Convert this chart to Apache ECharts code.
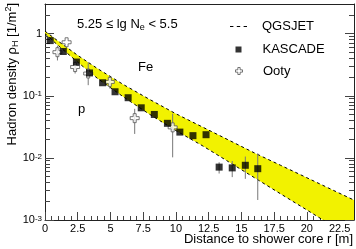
<!DOCTYPE html>
<html><head><meta charset="utf-8">
<script src="https://cdn.jsdelivr.net/npm/echarts@6/dist/echarts.min.js"></script>
<style>html,body{margin:0;padding:0;background:#fff}#c{width:356px;height:249px}</style>
</head><body><div id="c"></div>
<script>
// KASCADE measurements
const kascadeR   = [0.4, 1.4, 2.4, 3.4, 4.4, 5.35, 6.35, 7.35, 8.35, 9.35, 10.3, 11.3, 12.3, 13.3, 14.3, 15.3, 16.25];
const kascadeRho = [0.773, 0.516, 0.349, 0.233, 0.162, 0.116, 0.093, 0.064, 0.050, 0.036, 0.026, 0.0228, 0.0236, 0.0071, 0.0069, 0.0076, 0.0067];
const kascadeLo  = [null, null, null, null, null, null, null, null, null, null, null, null, null, 0.0056, 0.0049, 0.0046, 0.0021];
const kascadeHi  = [null, null, null, null, null, null, null, null, null, null, null, null, null, 0.0085, 0.0089, 0.0105, 0.0118];
// Ooty measurements
const ootyR   = [0.95, 1.65, 2.3, 3.3, 4.95, 6.85, 9.75];
const ootyRho = [0.503, 0.726, 0.290, 0.228, 0.167, 0.0436, 0.031];
const ootyLo  = [0.37, null, 0.228, 0.148, 0.131, 0.0243, 0.0102];
const ootyHi  = [0.64, null, 0.37, 0.345, 0.21, 0.0616, 0.0514];
// QGSJET band (Fe upper, p lower)
const bandR    = [0, 1, 2.5, 4, 6, 8, 10, 12, 14, 16, 18, 20, 22, 23.6];
const qgsUpper = [1.096, 0.759, 0.447, 0.275, 0.151, 0.0871, 0.0513, 0.0316, 0.0195, 0.0120, 0.00759, 0.00479, 0.00302, 0.00209];
const qgsLower = [1.0, 0.646, 0.347, 0.191, 0.0955, 0.0501, 0.0275, 0.0158, 0.00871, 0.00479, 0.00263, 0.00145, 0.000794, 0.000501];
// ticks
const xMajor = [0, 2.5, 5, 7.5, 10, 12.5, 15, 17.5, 20, 22.5];
const xMinor = [0.5,1,1.5,2,3,3.5,4,4.5,5.5,6,6.5,7,8,8.5,9,9.5,10.5,11,11.5,12,13,13.5,14,14.5,15.5,16,16.5,17,18,18.5,19,19.5,20.5,21,21.5,22,23,23.5];
const yMajor = [0.001, 0.01, 0.1, 1];
const yTickBase = ['10', '10', '10', '1'];
const yTickExp  = ['-3', '-2', '-1', ''];
const yMinor = [0.002,0.003,0.004,0.005,0.006,0.007,0.008,0.009,0.02,0.03,0.04,0.05,0.06,0.07,0.08,0.09,0.2,0.3,0.4,0.5,0.6,0.7,0.8,0.9,2];

const FONT = '"Liberation Sans", Arial, Helvetica, sans-serif';
const AX = '#222', TK = '#444';
const X_MIN = 0, X_MAX = 23.6, Y_MIN = 0.001, Y_MAX = 3;

const chart = echarts.init(document.getElementById('c'), null, {renderer: 'canvas'});

function yLabel(v) {
  const i = yMajor.indexOf(v);
  if (i < 0) return '';
  return '{b|' + yTickBase[i] + '}' + (yTickExp[i] ? '{s|' + yTickExp[i] + '}' : '');
}

const errData = [];
kascadeR.forEach((r, i) => { if (kascadeLo[i] != null) errData.push([r, kascadeLo[i], kascadeHi[i]]); });
ootyR.forEach((r, i) => { if (ootyLo[i] != null) errData.push([r, ootyLo[i], ootyHi[i]]); });

const baseX = {type: 'value', min: X_MIN, max: X_MAX, splitLine: {show: false}, nameMoveOverlap: false};
const baseY = {type: 'log', logBase: 10, min: Y_MIN, max: Y_MAX, splitLine: {show: false}, nameMoveOverlap: false};

chart.setOption({
  animation: false,
  textStyle: {fontFamily: FONT},
  grid: {left: 45, right: 1, top: 2, bottom: 29, containLabel: false},
  title: {
    text: '5.25 ≤ lg N{e|e} < 5.5', left: 77, top: 16, padding: 0,
    textStyle: {fontSize: 13, fontWeight: 'normal', color: '#000', fontFamily: FONT, lineHeight: 16,
      rich: {e: {fontSize: 9, lineHeight: 10, verticalAlign: 'bottom', fontFamily: FONT, color: '#000'}}}
  },
  legend: [
    {data: [{name: 'QGSJET', icon: 'path://M0,0H3V1H0Z M6,0H9V1H6Z M12,0H15V1H12Z'}],
     left: 230, top: 20, padding: 0, itemWidth: 17, itemHeight: 9, selectedMode: false,
     itemStyle: {color: '#000'},
     textStyle: {fontSize: 13, color: '#000', fontFamily: FONT, padding: [0, 0, 0, 10]}},
    {data: ['KASCADE'], left: 235.5, top: 43, padding: 0, itemWidth: 6, itemHeight: 6, selectedMode: false,
     textStyle: {fontSize: 13, color: '#000', fontFamily: FONT, padding: [0, 0, 0, 16]}},
    {data: ['Ooty'], left: 235, top: 64.5, padding: 0, itemWidth: 7, itemHeight: 7, selectedMode: false,
     itemStyle: {borderWidth: 1, borderColor: '#555'},
     textStyle: {fontSize: 13, color: '#000', fontFamily: FONT, padding: [0, 0, 0, 15.5]}}
  ],
  graphic: [
    {type: 'text', left: 138, top: 61, style: {text: 'Fe', fontSize: 13, fill: '#000', fontFamily: FONT}},
    {type: 'text', left: 78, top: 103, style: {text: 'p', fontSize: 13, fill: '#000', fontFamily: FONT}}
  ],
  xAxis: [
    Object.assign({}, baseX, {
      position: 'bottom',
      axisLine: {show: true, onZero: false, lineStyle: {color: AX, width: 1}},
      axisTick: {show: true, inside: true, length: 8, customValues: xMajor, lineStyle: {color: TK}},
      axisLabel: {show: true, customValues: xMajor, fontSize: 11, color: '#000', margin: 3, fontFamily: FONT},
      name: 'Distance to shower core r [m]', nameLocation: 'end', nameGap: -1,
      nameTextStyle: {fontSize: 13, color: '#000', fontFamily: FONT, align: 'right', verticalAlign: 'top', padding: [13, 0, 0, 0]}
    }),
    Object.assign({}, baseX, {
      position: 'bottom',
      axisLine: {show: false, onZero: false},
      axisTick: {show: true, inside: true, length: 4, customValues: xMinor, lineStyle: {color: TK}},
      axisLabel: {show: false}
    }),
    Object.assign({}, baseX, {
      position: 'top',
      axisLine: {show: true, onZero: false, lineStyle: {color: AX, width: 1}},
      axisTick: {show: false}, axisLabel: {show: false}
    })
  ],
  yAxis: [
    Object.assign({}, baseY, {
      position: 'left',
      axisLine: {show: true, onZero: false, lineStyle: {color: AX, width: 1}},
      axisTick: {show: true, inside: true, length: 9, customValues: yMajor, lineStyle: {color: TK}},
      axisLabel: {show: true, customValues: yMajor, margin: 3, formatter: yLabel, color: '#000',
        rich: {
          b: {fontSize: 11, lineHeight: 11, padding: [8.5, 0, 8.5, 0], fontFamily: FONT, color: '#000'},
          s: {fontSize: 8, lineHeight: 8, verticalAlign: 'top', fontFamily: FONT, color: '#000'}
        }},
      name: 'Hadron density ρ{sub|H} [1/m{sup|2}]', nameLocation: 'end', nameGap: 1, nameRotate: 90,
      nameTextStyle: {fontSize: 13, color: '#000', fontFamily: FONT, align: 'right', verticalAlign: 'bottom',
        lineHeight: 16, padding: [0, 0, 25, 0],
        rich: {
          sub: {fontSize: 9, lineHeight: 9, verticalAlign: 'bottom', fontFamily: FONT, color: '#000'},
          sup: {fontSize: 9, lineHeight: 9, verticalAlign: 'top', fontFamily: FONT, color: '#000'}
        }}
    }),
    Object.assign({}, baseY, {
      position: 'left',
      axisLine: {show: false, onZero: false},
      axisTick: {show: true, inside: true, length: 5, customValues: yMinor, lineStyle: {color: TK}},
      axisLabel: {show: false}
    }),
    Object.assign({}, baseY, {
      position: 'right',
      axisLine: {show: true, onZero: false, lineStyle: {color: AX, width: 1}},
      axisTick: {show: true, inside: true, length: 9, customValues: yMajor, lineStyle: {color: TK}},
      axisLabel: {show: false}
    }),
    Object.assign({}, baseY, {
      position: 'right',
      axisLine: {show: false, onZero: false},
      axisTick: {show: true, inside: true, length: 5, customValues: yMinor, lineStyle: {color: TK}},
      axisLabel: {show: false}
    })
  ],
  series: [
    {
      type: 'custom', silent: true, clip: true, z: 1,
      data: bandR.map((r, i) => [r, qgsUpper[i], qgsLower[i]]),
      encode: {x: 0, y: [1, 2]},
      renderItem: function (params, api) {
        if (params.dataIndex !== 0) return;
        const pts = [];
        for (let i = 0; i < bandR.length; i++) pts.push(api.coord([bandR[i], qgsUpper[i]]));
        for (let i = bandR.length - 1; i >= 0; i--) pts.push(api.coord([bandR[i], qgsLower[i]]));
        return {type: 'polygon', shape: {points: pts}, style: {fill: '#f2f200', stroke: null}};
      }
    },
    {
      type: 'line', name: 'QGSJET', silent: true, z: 2, symbol: 'none', showSymbol: false,
      data: bandR.map((r, i) => [r, qgsUpper[i]]),
      lineStyle: {color: '#000', width: 1, type: [3, 3]}, itemStyle: {color: '#000'}
    },
    {
      type: 'line', name: 'QGSJET', silent: true, z: 2, symbol: 'none', showSymbol: false,
      data: bandR.map((r, i) => [r, qgsLower[i]]),
      lineStyle: {color: '#000', width: 1, type: [3, 3]}, itemStyle: {color: '#000'}
    },
    {
      type: 'custom', silent: true, clip: true, z: 3,
      data: errData, encode: {x: 0, y: [1, 2]},
      renderItem: function (params, api) {
        const a = api.coord([api.value(0), api.value(1)]);
        const b = api.coord([api.value(0), api.value(2)]);
        return {type: 'line', shape: {x1: a[0], y1: a[1], x2: b[0], y2: b[1]}, style: {stroke: '#777', lineWidth: 1}};
      }
    },
    {
      type: 'scatter', name: 'Ooty', z: 4, silent: true,
      symbol: 'path://M3,0H6V3H9V6H6V9H3V6H0V3H3Z', symbolSize: 9,
      data: ootyR.map((r, i) => [r, ootyRho[i]]),
      itemStyle: {color: '#fff', borderColor: '#555', borderWidth: 1}
    },
    {
      type: 'scatter', name: 'KASCADE', z: 5, silent: true,
      symbol: 'rect', symbolSize: 7,
      data: kascadeR.map((r, i) => [r, kascadeRho[i]]),
      itemStyle: {color: '#000'}
    }
  ]
});
</script>
</body></html>
